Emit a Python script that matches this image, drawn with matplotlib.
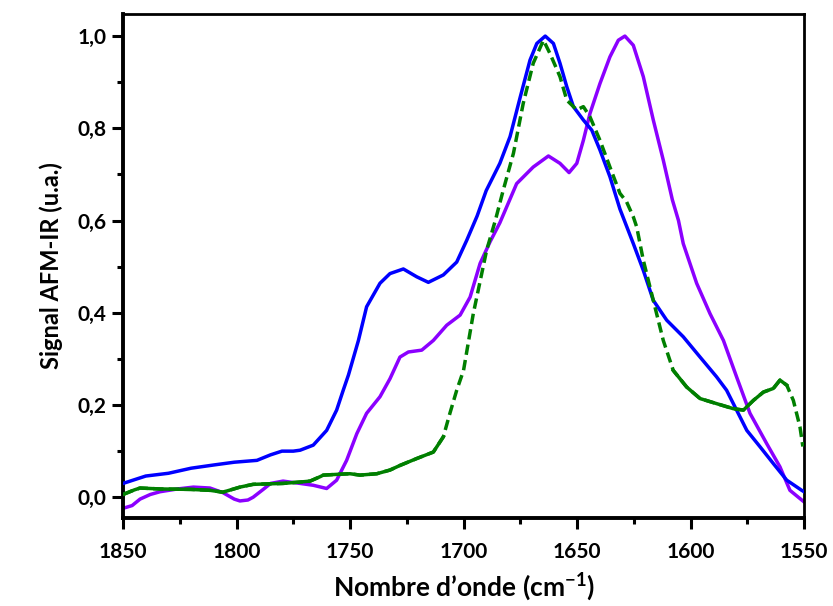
import matplotlib
matplotlib.use("Agg")
import matplotlib.pyplot as plt
import numpy as np
from matplotlib.ticker import FuncFormatter, MultipleLocator

plt.rcParams['font.family'] = ['Lato', 'DejaVu Sans']
plt.rcParams['font.weight'] = 'bold'
plt.rcParams['mathtext.fontset'] = 'custom'
plt.rcParams['mathtext.bf'] = 'Lato:bold'
plt.rcParams['mathtext.rm'] = 'Lato:bold'
plt.rcParams['lines.solid_joinstyle'] = 'round'
plt.rcParams['lines.dash_joinstyle'] = 'round'

# blue curve
wn_blue = [1850, 1840, 1830, 1820, 1810, 1801, 1791, 1785, 1780, 1775, 1772, 1766.2,
           1760.3, 1755.9, 1753, 1750.7, 1746.3, 1742.7, 1736.8, 1732.4, 1726.5,
           1720.6, 1715.5, 1708.9, 1703, 1698.6, 1694, 1690, 1684, 1679.5, 1675,
           1670.7, 1667.7, 1664, 1660.4, 1657.5, 1654.5, 1651.6, 1647.2, 1643.5,
           1639.9, 1635.5, 1631.1, 1625.2, 1620.8, 1616.4, 1610.5, 1603.2, 1595.8,
           1588.5, 1584.1, 1579.7, 1575.2, 1569.3, 1563.5, 1557.6, 1551, 1550]
sig_blue = [0.03, 0.046, 0.052, 0.063, 0.07, 0.076, 0.08, 0.092, 0.10, 0.10, 0.102, 0.113,
            0.145, 0.189, 0.232, 0.265, 0.34, 0.413, 0.464, 0.485, 0.495,
            0.478, 0.466, 0.482, 0.51, 0.557, 0.61, 0.665, 0.724, 0.782, 0.868,
            0.948, 0.984, 1.0, 0.984, 0.941, 0.89, 0.847, 0.818, 0.796,
            0.753, 0.695, 0.625, 0.55, 0.492, 0.427, 0.384, 0.348, 0.304,
            0.261, 0.232, 0.189, 0.145, 0.109, 0.073, 0.037, 0.015, 0.012]

# purple curve
wn_purple = [1850, 1846, 1842.5, 1838, 1833.7, 1826, 1819, 1811.7, 1806, 1801, 1798.5,
             1795, 1792.7, 1788, 1785, 1779.5, 1772, 1766.2, 1760.3, 1755.9, 1751.5,
             1747, 1742.7, 1736.8, 1732.4, 1728, 1724.3, 1718.4, 1713.3, 1707.4,
             1701.5, 1697.1, 1692.7, 1688.3, 1684, 1676.6, 1669.3, 1662.6, 1657.5,
             1653.5, 1650.1, 1647.2, 1644.3, 1639.9, 1635.5, 1631.8, 1628.9, 1625.2,
             1620.8, 1616.4, 1612, 1608, 1605.3, 1603.2, 1597.3, 1591.4, 1585.5,
             1579.7, 1573.8, 1566.4, 1560.6, 1556.2, 1551, 1550]
sig_purple = [-0.024, -0.018, -0.004, 0.006, 0.012, 0.018, 0.022, 0.02, 0.01, -0.004, -0.008,
              -0.006, 0.0, 0.018, 0.03, 0.035, 0.03, 0.026, 0.019, 0.037, 0.08,
              0.138, 0.182, 0.218, 0.257, 0.304, 0.315, 0.319, 0.34, 0.373,
              0.395, 0.434, 0.507, 0.554, 0.595, 0.68, 0.716, 0.74, 0.724,
              0.704, 0.724, 0.774, 0.832, 0.897, 0.955, 0.991, 1.0, 0.98,
              0.912, 0.818, 0.731, 0.645, 0.60, 0.55, 0.464, 0.398, 0.34,
              0.261, 0.182, 0.116, 0.066, 0.015, -0.006, -0.01]

# green dashed curve
wn_green = [1850, 1845, 1842.5, 1833.7, 1820, 1811.7, 1806, 1798.5, 1792.7, 1779.5, 1772,
            1767.6, 1763, 1761.8, 1754.4, 1750, 1745.6, 1738.2, 1732.4, 1728, 1720.6,
            1713.3, 1708.9, 1706, 1703, 1700, 1695.7, 1689.8, 1686, 1682.5, 1678,
            1673.7, 1669.3, 1664.8, 1661.9, 1657.5, 1654.5, 1650.1, 1647.2, 1644.3,
            1639.9, 1635.5, 1631.1, 1628.2, 1625.2, 1623.7, 1620.8, 1616.4, 1612,
            1607.6, 1601.7, 1595.8, 1588.5, 1581.1, 1576.7, 1572.3, 1567.9, 1563.5,
            1560.6, 1557.6, 1554.7, 1551.8, 1550.5]
sig_green = [0.006, 0.016, 0.02, 0.018, 0.017, 0.015, 0.011, 0.022, 0.028, 0.03, 0.033,
             0.035, 0.045, 0.048, 0.05, 0.051, 0.048, 0.051, 0.059, 0.069, 0.084,
             0.098, 0.131, 0.182, 0.232, 0.275, 0.398, 0.536, 0.60, 0.666, 0.746,
             0.854, 0.941, 0.991, 0.962, 0.912, 0.861, 0.84, 0.847, 0.825,
             0.774, 0.716, 0.659, 0.641, 0.608, 0.586, 0.514, 0.427, 0.34,
             0.275, 0.239, 0.214, 0.203, 0.192, 0.189, 0.21, 0.228, 0.236,
             0.254, 0.243, 0.21, 0.153, 0.11]

x_ticks = [1850, 1800, 1750, 1700, 1650, 1600, 1550]
y_ticks = [0.0, 0.2, 0.4, 0.6, 0.8, 1.0]

fig = plt.figure(figsize=(8.33, 6.06), dpi=100)
ax = fig.add_axes([0.1477, 0.1452, 0.8175, 0.8318])

ax.plot(wn_blue, sig_blue, color='#0000ff', lw=2.5, zorder=3)
ax.plot(wn_purple, sig_purple, color='#8b00ff', lw=2.5, zorder=2)

# the noisy flat parts of the green trace render as a continuous line
wg = np.array(wn_green)
sg = np.array(sig_green)
ax.plot(wg, sg, color='#007f00', lw=2.5, ls=(0, (3.0, 1.5)), zorder=4)
for lo, hi in [(1708.9, 1850), (1557.6, 1607.6)]:
    m = (wg >= lo) & (wg <= hi)
    ax.plot(wg[m], sg[m], color='#007f00', lw=2.5, zorder=4)

ax.set_xlim(1850, 1550)
ax.set_ylim(-0.045, 1.048)
ax.set_xticks(x_ticks)
ax.set_yticks(y_ticks)
ax.xaxis.set_minor_locator(MultipleLocator(25))
ax.yaxis.set_minor_locator(MultipleLocator(0.1))
ax.yaxis.set_major_formatter(FuncFormatter(lambda v, p: f'{v:.1f}'.replace('.', ',')))

ax.tick_params(which='major', direction='out', length=8, width=2.2, labelsize=15)
ax.tick_params(which='minor', direction='out', length=4.5, width=2.2)
ax.tick_params(axis='x', which='major', pad=9)
ax.tick_params(axis='y', which='major', pad=4)
ax.tick_params(axis='x', which='both', top=False)
ax.tick_params(axis='y', which='both', right=False)
for lbl in ax.get_xticklabels() + ax.get_yticklabels():
    lbl.set_fontweight('bold')

for s in ['left', 'bottom']:
    ax.spines[s].set_linewidth(2.8)
for s in ['top', 'right']:
    ax.spines[s].set_linewidth(2.0)

ax.set_xlabel('Nombre d’onde (cm$^{\\mathbf{-1}}$)', fontsize=19, fontweight='bold', labelpad=6)
ax.set_ylabel('Signal AFM-IR (u.a.)', fontsize=17, fontweight='bold', labelpad=10)

fig.savefig('out.png', dpi=100)
